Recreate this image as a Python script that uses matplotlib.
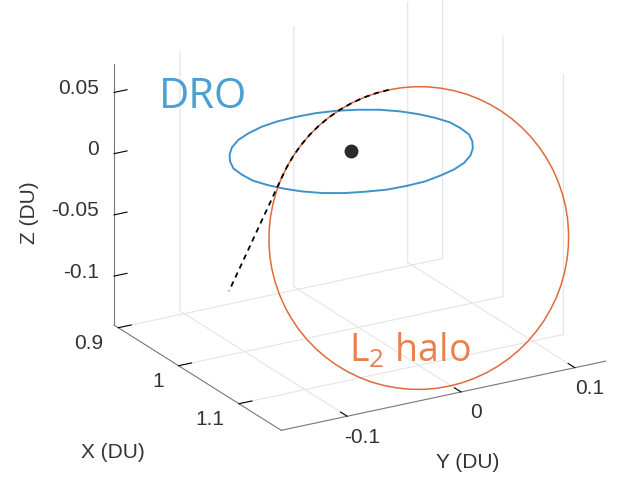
import numpy as np
import matplotlib
matplotlib.use('Agg')
import matplotlib.pyplot as plt
from mpl_toolkits.mplot3d import proj3d

plt.rcParams['font.family'] = ['Liberation Sans', 'DejaVu Sans']
plt.rcParams['axes.unicode_minus'] = False
plt.rcParams['mathtext.fontset'] = 'custom'
plt.rcParams['mathtext.rm'] = 'Open Sans'

# DRO around the moon (lies in the z = 0 plane)
dro_x = [1.079, 1.078, 1.073, 1.067, 1.058, 1.046, 1.033, 1.019, 1.004, 0.988,
         0.972, 0.957, 0.943, 0.930, 0.918, 0.909, 0.902, 0.898, 0.897, 0.898,
         0.902, 0.909, 0.918, 0.930, 0.943, 0.957, 0.972, 0.988, 1.004, 1.019,
         1.033, 1.046, 1.058, 1.067, 1.073, 1.078, 1.079]
dro_y = [0.0, 0.017, 0.033, 0.048, 0.062, 0.074, 0.083, 0.090, 0.095, 0.096,
         0.095, 0.090, 0.083, 0.074, 0.062, 0.048, 0.033, 0.017, 0.0, -0.017,
         -0.033, -0.048, -0.062, -0.074, -0.083, -0.090, -0.095, -0.096, -0.095, -0.090,
         -0.083, -0.074, -0.062, -0.048, -0.033, -0.017, 0.0]
dro_z = [0.0] * len(dro_x)

# L2 halo orbit
halo_x = [1.0500, 1.0502, 1.0508, 1.0517, 1.0530, 1.0547, 1.0567, 1.0590, 1.0617, 1.0646,
          1.0679, 1.0713, 1.0750, 1.0789, 1.0829, 1.0871, 1.0913, 1.0956, 1.1000, 1.1044,
          1.1087, 1.1129, 1.1171, 1.1211, 1.1250, 1.1287, 1.1321, 1.1354, 1.1383, 1.1410,
          1.1433, 1.1453, 1.1470, 1.1483, 1.1492, 1.1498, 1.1500, 1.1498, 1.1492, 1.1483,
          1.1470, 1.1453, 1.1433, 1.1410, 1.1383, 1.1354, 1.1321, 1.1287, 1.1250, 1.1211,
          1.1171, 1.1129, 1.1087, 1.1044, 1.1000, 1.0956, 1.0913, 1.0871, 1.0829, 1.0789,
          1.0750, 1.0713, 1.0679, 1.0646, 1.0617, 1.0590, 1.0567, 1.0547, 1.0530, 1.0517,
          1.0508, 1.0502, 1.0500]
halo_y = [0.0, 0.0112, 0.0224, 0.0334, 0.0441, 0.0545, 0.0645, 0.0740, 0.0829, 0.0912,
          0.0988, 0.1057, 0.1117, 0.1169, 0.1212, 0.1246, 0.1270, 0.1285, 0.1290, 0.1285,
          0.1270, 0.1246, 0.1212, 0.1169, 0.1117, 0.1057, 0.0988, 0.0912, 0.0829, 0.0740,
          0.0645, 0.0545, 0.0441, 0.0334, 0.0224, 0.0112, 0.0, -0.0112, -0.0224, -0.0334,
          -0.0441, -0.0545, -0.0645, -0.0740, -0.0829, -0.0912, -0.0988, -0.1057, -0.1117, -0.1169,
          -0.1212, -0.1246, -0.1270, -0.1285, -0.1290, -0.1285, -0.1270, -0.1246, -0.1212, -0.1169,
          -0.1117, -0.1057, -0.0988, -0.0912, -0.0829, -0.0740, -0.0645, -0.0545, -0.0441, -0.0334,
          -0.0224, -0.0112, 0.0]
halo_z = [0.0695, 0.0691, 0.0679, 0.0659, 0.0631, 0.0596, 0.0554, 0.0504, 0.0448, 0.0386,
          0.0318, 0.0245, 0.0168, 0.0086, 0.0001, -0.0087, -0.0177, -0.0268, -0.0360, -0.0452,
          -0.0543, -0.0633, -0.0721, -0.0806, -0.0888, -0.0965, -0.1038, -0.1106, -0.1168, -0.1224,
          -0.1274, -0.1316, -0.1351, -0.1379, -0.1399, -0.1411, -0.1415, -0.1411, -0.1399, -0.1379,
          -0.1351, -0.1316, -0.1274, -0.1224, -0.1168, -0.1106, -0.1038, -0.0965, -0.0888, -0.0806,
          -0.0721, -0.0633, -0.0543, -0.0452, -0.0360, -0.0268, -0.0177, -0.0087, 0.0001, 0.0086,
          0.0168, 0.0245, 0.0318, 0.0386, 0.0448, 0.0504, 0.0554, 0.0596, 0.0631, 0.0659,
          0.0679, 0.0691, 0.0695]

# transfer (dashed): runs along the halo, then leaves it
tr_x = [1.0500, 1.0502, 1.0508, 1.0517, 1.0530, 1.0547, 1.0567, 1.0590, 1.0617, 1.0646,
        1.0679, 1.0713, 1.0730, 1.0748, 1.0765, 1.0783, 1.0800]
tr_y = [0.0, -0.0112, -0.0224, -0.0334, -0.0441, -0.0545, -0.0645, -0.0740, -0.0829, -0.0912,
        -0.0988, -0.1057, -0.1158, -0.1259, -0.1359, -0.1460, -0.1561]
tr_z = [0.0695, 0.0691, 0.0679, 0.0659, 0.0631, 0.0596, 0.0554, 0.0504, 0.0448, 0.0386,
        0.0318, 0.0245, 0.0085, -0.0072, -0.0230, -0.0387, -0.0545]

# moon
moon_x, moon_y, moon_z = [0.988], [0.0], [0.0]

x_ticks = [0.9, 1.0, 1.1]
x_labels = ['0.9', '1', '1.1']
y_ticks = [-0.1, 0.0, 0.1]
y_labels = ['-0.1', '0', '0.1']
z_ticks = [-0.1, -0.05, 0.0, 0.05]
z_labels = ['-0.1', '-0.05', '0', '0.05']

x_lim = (0.893, 1.170)
y_lim = (-0.158, 0.127)
z_lim = (-0.140, 0.073)

fig = plt.figure(figsize=(6.34, 4.79), dpi=100)
ax = fig.add_axes([0.0573, 0.0424, 1, 1], projection='3d')
ax.set_proj_type('ortho')
ax.view_init(elev=21.5, azim=-30.2)
ax.set_box_aspect((332, 375, 280), zoom=1.164)

ax.plot(dro_x, dro_y, dro_z, color='#3f92cb', lw=1.4)
ax.plot(halo_x, halo_y, halo_z, color='#e06a3a', lw=1.1)
ax.plot(tr_x, tr_y, tr_z, color='black', lw=1.3, ls=(0, (3, 2.5)))
ax.plot(moon_x, moon_y, moon_z, 'o', color='#2b2b2b', ms=9)

ax.set_xlim(x_lim)
ax.set_ylim(y_lim)
ax.set_zlim(z_lim)
ax.set_xticks(x_ticks)
ax.set_yticks(y_ticks)
ax.set_zticks(z_ticks)
ax.zaxis.set_ticks_position('lower')

for axis in [ax.xaxis, ax.yaxis, ax.zaxis]:
    axis.set_tick_params(label1On=False, label2On=False)
    axis.set_pane_color((1, 1, 1, 0))
    axis.pane.set_edgecolor('#e4e4e4')
    axis.line.set_color('#777777')
    axis._axinfo['grid'].update(color='#e4e4e4', linewidth=0.8)
    axis._axinfo['tick'].update(inward_factor=0.0, outward_factor=0.5, color='#777777')
ax.zaxis._axinfo['grid'].update(color=(1, 1, 1, 0))

# tick labels, placed like MATLAB does it (3d point -> 2d projected coords)
M = ax.get_proj()
lab = dict(fontsize=15, color='#333333', va='center', transform=ax.transData)


def tick_label(x, y, z, s, ha):
    px, py, _ = proj3d.proj_transform(x, y, z, M)
    ax.text2D(px, py, s, ha=ha, **lab)


for v, s in zip(x_ticks, x_labels):
    tick_label(v, y_lim[0] - 0.013, z_lim[0] - 0.010, s, 'right')
for v, s in zip(y_ticks, y_labels):
    tick_label(x_lim[1] + 0.025, v, z_lim[0] - 0.0094, s, 'center')
for v, s in zip(z_ticks, z_labels):
    tick_label(x_lim[0] - 0.025, y_lim[0], v - 0.0045, s, 'right')

fig.text(0.178, 0.056, 'X (DU)', fontsize=15, color='#333333', ha='center', va='center')
fig.text(0.738, 0.035, 'Y (DU)', fontsize=15, color='#333333', ha='center', va='center')
fig.text(0.047, 0.557, 'Z (DU)', fontsize=15, color='#333333', ha='center', va='center',
         rotation=90)
fig.text(0.320, 0.775, 'DRO', fontsize=30, color='#4a9fd5', ha='center', va='baseline',
         family='Open Sans')
fig.text(0.647, 0.244, r'L$_\mathrm{2}$ halo', fontsize=27, color='#e8804f', ha='center',
         va='baseline', family='Open Sans')

fig.savefig('out.png', dpi=100)
